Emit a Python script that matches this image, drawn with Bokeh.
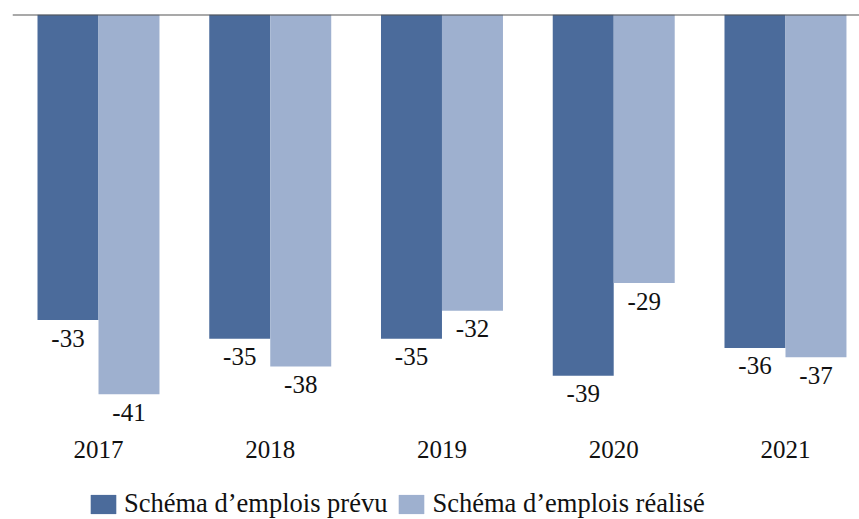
from bokeh.plotting import figure
from bokeh.models import ColumnDataSource, FixedTicker, Legend, LegendItem, Range1d, Span, Label
from bokeh.transform import dodge
from bokeh.embed import file_html
from bokeh.resources import INLINE

years = ["2017", "2018", "2019", "2020", "2021"]
prevu = [-33, -35, -35, -39, -36]
realise = [-41, -38, -32, -29, -37]
series_names = ["Schéma d’emplois prévu", "Schéma d’emplois réalisé"]

DARK = "#4B6B9B"
LIGHT = "#9EB0CF"
FONT = "Liberation Serif"
FS = "25px"

idx = list(range(len(years)))
src = ColumnDataSource(dict(x=idx, prevu=prevu, realise=realise))

p = figure(width=859, height=519,
           x_range=Range1d(-0.5007, 4.431), y_range=Range1d(-54.53, 0),
           output_backend="svg", toolbar_location=None,
           min_border_left=12, min_border_right=0, min_border_top=14, min_border_bottom=0)
p.outline_line_color = None
p.xgrid.visible = False
p.ygrid.visible = False
p.yaxis.visible = False
p.background_fill_color = "white"
p.border_fill_color = "white"

BW = 0.355
OFF = 0.1776
r1 = p.vbar(x=dodge("x", -OFF, range=p.x_range), top=0, bottom="prevu", width=BW,
            source=src, fill_color=DARK, line_color=None)
r2 = p.vbar(x=dodge("x", OFF, range=p.x_range), top=0, bottom="realise", width=BW,
            source=src, fill_color=LIGHT, line_color=None)

# value labels under each bar
for series, off in ((prevu, -OFF), (realise, OFF)):
    for i, v in zip(idx, series):
        p.add_layout(Label(x=i + off, y=v, x_units="data", y_units="data",
                           text=str(v), y_offset=-18,
                           text_align="center", text_baseline="middle",
                           text_font=FONT, text_font_size=FS, text_color="#111111"))

p.add_layout(Span(location=0, dimension="width", line_color="#555555", line_width=2))

ax = p.xaxis[0]
ax.fixed_location = -44.92
ax.ticker = FixedTicker(ticks=idx)
ax.major_label_overrides = {i: y for i, y in zip(idx, years)}
ax.axis_line_color = None
ax.major_tick_line_color = None
ax.minor_tick_line_color = None
ax.major_label_text_font = FONT
ax.major_label_text_font_size = FS
ax.major_label_text_color = "#111111"
ax.major_label_standoff = 4

legend = Legend(items=[LegendItem(label=series_names[0], renderers=[r1]),
                       LegendItem(label=series_names[1], renderers=[r2])],
                orientation="horizontal", location=(75, 0),
                label_text_font=FONT, label_text_font_size="26.5px", label_text_color="#111111",
                glyph_width=32, glyph_height=24, label_height=24, label_standoff=5,
                spacing=8, padding=0, margin=0, border_line_color=None,
                background_fill_alpha=0)
p.add_layout(legend, "center")

open("out.html", "w").write(file_html(p, INLINE))
